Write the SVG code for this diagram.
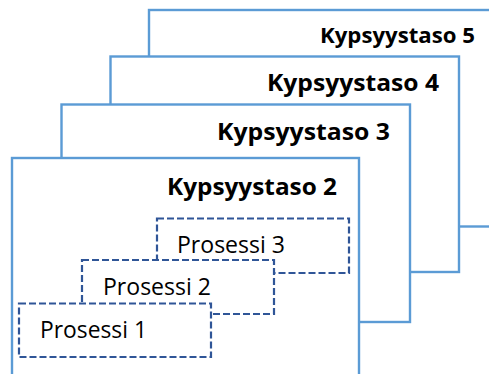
<svg xmlns="http://www.w3.org/2000/svg" width="489" height="374" viewBox="0 0 489 374">
<style>
.lvl{fill:#fff;stroke:#5B9BD5;stroke-width:2.4}
.prc{fill:#fff;stroke:#2F5597;stroke-width:2.2;stroke-dasharray:7,3}
.lt{font-family:"Open Sans","Liberation Sans",sans-serif;font-weight:bold;fill:#000}
.pt{font-family:"Open Sans","Liberation Sans",sans-serif;fill:#000;font-size:23px}
</style>
<rect width="489" height="374" fill="#fff"/>
<g id="level5"><rect class="lvl" x="149" y="10" width="400" height="216.5"/><text class="lt" x="320" y="43" font-size="21" textLength="155" lengthAdjust="spacingAndGlyphs">Kypsyystaso 5</text></g>
<g id="level4"><rect class="lvl" x="110.5" y="56.5" width="348.5" height="215.5"/><text class="lt" x="267" y="91" font-size="23" textLength="172" lengthAdjust="spacingAndGlyphs">Kypsyystaso 4</text></g>
<g id="level3"><rect class="lvl" x="61.5" y="104.5" width="348.5" height="217.5"/><text class="lt" x="217" y="140" font-size="23" textLength="173" lengthAdjust="spacingAndGlyphs">Kypsyystaso 3</text></g>
<g id="level2"><rect class="lvl" x="12" y="158" width="347" height="240"/><text class="lt" x="167" y="195" font-size="23" textLength="170" lengthAdjust="spacingAndGlyphs">Kypsyystaso 2</text></g>
<g id="prosessi3"><rect class="prc" x="157" y="218.5" width="192" height="54.5"/><text class="pt" x="177" y="253" textLength="108" lengthAdjust="spacingAndGlyphs">Prosessi 3</text></g>
<g id="prosessi2"><rect class="prc" x="82" y="260" width="192" height="54"/><text class="pt" x="103" y="295" textLength="108" lengthAdjust="spacingAndGlyphs">Prosessi 2</text></g>
<g id="prosessi1"><rect class="prc" x="19" y="303.5" width="192" height="53.5"/><text class="pt" x="40" y="338" textLength="107" lengthAdjust="spacingAndGlyphs">Prosessi 1</text></g>
<g id="connectors"/>
</svg>
